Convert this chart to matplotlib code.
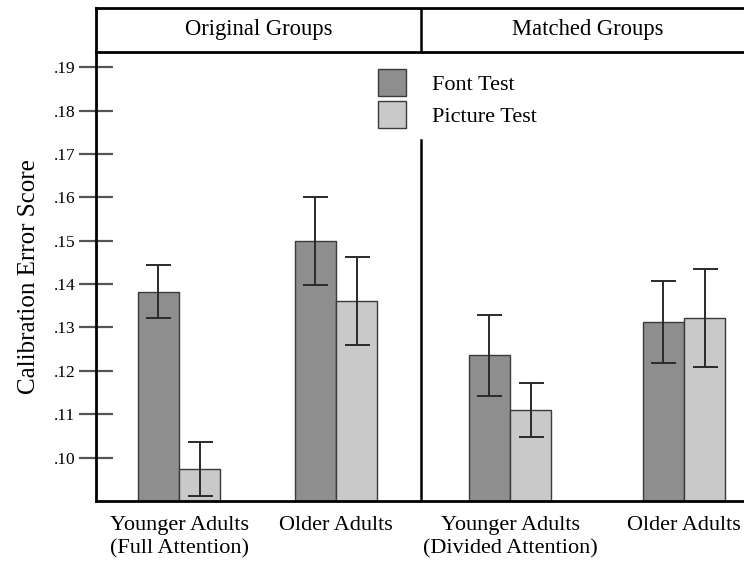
import matplotlib
matplotlib.use("Agg")
import matplotlib.pyplot as plt
import numpy as np

# ---- data ----
groups = ["Younger Adults\n(Full Attention)", "Older Adults",
          "Younger Adults\n(Divided Attention)", "Older Adults"]
font_test = [0.1382, 0.1499, 0.1236, 0.1312]
font_err = [0.0061, 0.0101, 0.0093, 0.0094]
picture_test = [0.0974, 0.1361, 0.1110, 0.1322]
picture_err = [0.0063, 0.0102, 0.0063, 0.0113]
panel_titles = ["Original Groups", "Matched Groups"]
series_names = ["Font Test", "Picture Test"]
yticks = [0.10, 0.11, 0.12, 0.13, 0.14, 0.15, 0.16, 0.17, 0.18, 0.19]

# ---- layout ----
plt.rcParams['font.family'] = ['Liberation Serif', 'DejaVu Serif']
W, H = 744, 566
fig = plt.figure(figsize=(W / 100, H / 100), dpi=100)

def px(x0, y0, x1, y1):
    return [x0 / W, 1 - y1 / H, (x1 - x0) / W, (y1 - y0) / H]

pos = np.array([0.0, 1.0, 2.108, 3.217])
bw = 0.263
xl = (-0.529, 3.764)
divider = 1.541

ax = fig.add_axes(px(96, 52, 770, 501))
dark, light = "#8e8e8e", "#c9c9c9"
edge = "#3a3a3a"
ekw = dict(ecolor="#2a2a2a", elinewidth=1.4, capthick=1.4)
ax.bar(pos - bw / 2, font_test, bw, color=dark, edgecolor=edge, linewidth=1.0,
       yerr=font_err, capsize=9, error_kw=ekw, label=series_names[0], zorder=2)
ax.bar(pos + bw / 2, picture_test, bw, color=light, edgecolor=edge, linewidth=1.0,
       yerr=picture_err, capsize=9, error_kw=ekw, label=series_names[1], zorder=2)

ax.set_xlim(*xl)
ax.set_ylim(0.0900, 0.1935)
ax.axvline(divider, ymin=0, ymax=(0.1732 - 0.09) / (0.1935 - 0.09), color="black", lw=1.8)

for s in ["top", "right"]:
    ax.spines[s].set_visible(False)
for s in ["left", "bottom"]:
    ax.spines[s].set_linewidth(2.0)
    ax.spines[s].set_color("black")

ax.set_yticks(yticks)
ax.set_yticklabels(["." + f"{v:.2f}".split(".")[1] for v in yticks], fontsize=12.5)
ax.tick_params(axis="y", direction="inout", length=24, width=1.6, color="#555555", pad=3)
ax.set_xticks(pos)
ax.set_xticklabels(groups, fontsize=16, linespacing=1.25)
ax.tick_params(axis="x", length=0, pad=11)
ax.set_ylabel("Calibration Error Score", fontsize=18, labelpad=10)

leg = ax.legend(loc="upper left", bbox_to_anchor=((378 - 96) / (770 - 96), 1 - (69 - 52) / (501 - 52)),
                frameon=False, fontsize=16, handlelength=1.25, handleheight=1.49,
                handletextpad=1.18, labelspacing=0.23, borderaxespad=0, borderpad=0)

# header panel
hx = fig.add_axes(px(96, 8, 770, 52))
hx.set_xlim(*xl)
hx.set_ylim(0, 1)
hx.set_xticks([])
hx.set_yticks([])
for s in hx.spines.values():
    s.set_linewidth(2.0)
    s.set_color("black")
hx.axvline(divider, color="black", lw=1.8)
hx.text((xl[0] + divider) / 2, 0.5, panel_titles[0], ha="center", va="center", fontsize=16.3)
hx.text((588 - 179) / 157, 0.5, panel_titles[1], ha="center", va="center", fontsize=16.3)

fig.savefig("out.png", dpi=100)
